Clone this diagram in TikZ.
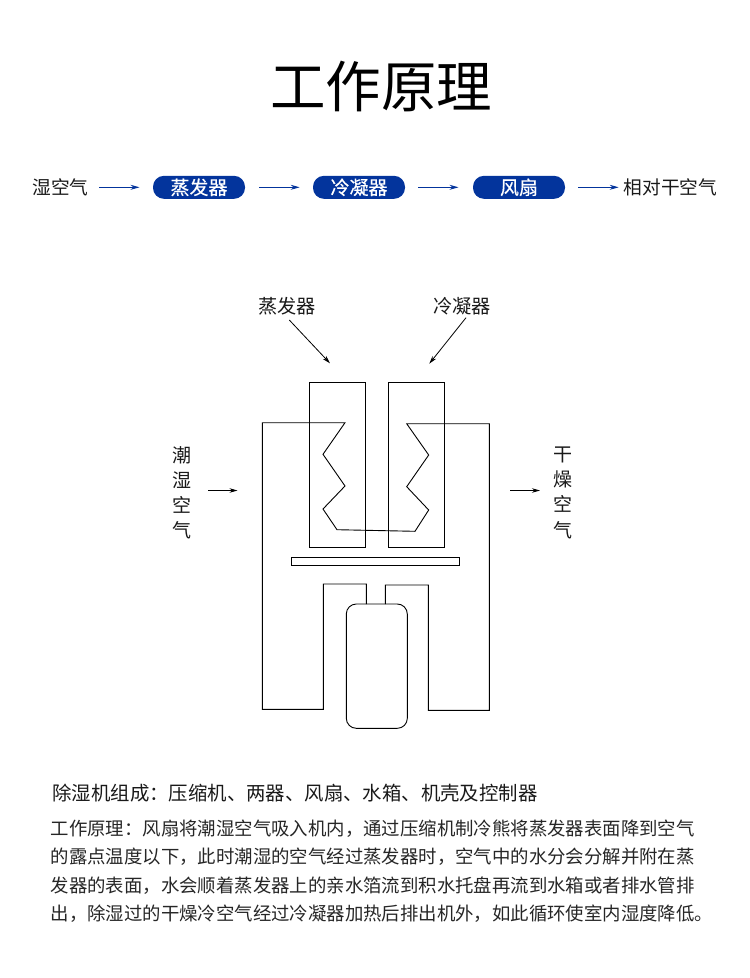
\documentclass[tikz,border=0pt]{standalone}
\usepackage{fontspec}
\setmainfont{Noto Sans CJK SC}
\usetikzlibrary{arrows.meta,positioning}
\definecolor{flowblue}{HTML}{03349C}
\tikzset{
  x=1pt,y=-1pt,
  lbl/.style={inner sep=0pt,font=\fontsize{18.7}{18.7}\selectfont,text=black!90},
  lblbig/.style={inner sep=0pt,font=\fontsize{19.2}{19.2}\selectfont,text=black!90},
  pill/.style={draw=none,fill=flowblue,rounded corners=11pt,minimum width=92pt,minimum height=23pt,inner sep=0pt,text=white,font=\fontsize{19}{19}\selectfont\addfontfeature{FakeBold=0.4}},
  flow/.style={draw=flowblue,line width=0.9pt,-{Stealth[length=9pt,width=5pt]}},
  pipe/.style={draw=black,line width=0.9pt,line join=miter},
  point/.style={draw=black,line width=0.8pt,-{Stealth[length=8pt,width=4.5pt]}},
  bodyline/.style={inner sep=0pt,anchor=west,font=\fontsize{18.4}{18.4}\selectfont,text=black!85},
  vlbl/.style={inner sep=0pt,align=center,font=\fontsize{19}{25.2}\selectfont,text=black!90}
}
\begin{document}
\begin{tikzpicture}
\useasboundingbox (0,0) rectangle (750,978);
\node[inner sep=0pt,font=\fontsize{55.5}{55.5}\selectfont] (title) at (381,86) {工作原理};
% flow row
\node[lbl] (f0) at (60.5,187.3) {湿空气};
\node[pill] (f1) at (199,187.3) {蒸发器};
\node[pill] (f2) at (359,187.3) {冷凝器};
\node[pill] (f3) at (519,187.3) {风扇};
\node[lbl] (f4) at (670.5,187.3) {相对干空气};
\coordinate (a0s) at (99,187.3); \coordinate (a0e) at (139.5,187.3);
\coordinate (a1s) at (259,187.3); \coordinate (a1e) at (299.7,187.3);
\coordinate (a2s) at (418,187.3); \coordinate (a2e) at (458.5,187.3);
\coordinate (a3s) at (578,187.3); \coordinate (a3e) at (618.7,187.3);
\draw[flow] (a0s) -- (a0e);
\draw[flow] (a1s) -- (a1e);
\draw[flow] (a2s) -- (a2e);
\draw[flow] (a3s) -- (a3e);
% labels
\node[lblbig] (evap) at (287,306) {蒸发器};
\node[lblbig] (cond) at (462,306) {冷凝器};
\coordinate (evapTip) at (330,363.3);
\coordinate (condTip) at (429.3,363.7);
\draw[point] (289.3,320) -- (evapTip);
\draw[point] (466,317.7) -- (condTip);
\node[vlbl] (wet) at (182,492.8) {潮\\湿\\空\\气};
\node[vlbl] (dry) at (563,492.8) {干\\燥\\空\\气};
\coordinate (wetTip) at (237.5,490.5);
\coordinate (dryTip) at (540,490.5);
\draw[point] (208.3,490.5) -- (wetTip);
\draw[point] (510,490.5) -- (dryTip);
% machine
\draw[pipe] (309.3,382.3) rectangle (365.7,547.3);
\draw[pipe] (388.3,382.3) rectangle (444.7,547.3);
\draw[pipe] (291.3,557) rectangle (459.3,565.3);
\draw[pipe,rounded corners=10pt] (346.3,604) rectangle (407.3,728.3);
\draw[pipe] (366.3,604) -- (366.3,584) -- (323.3,584) -- (323.3,709.3) -- (262.3,709.3) -- (262.3,422.7)
  -- (345,422.7) -- (323,454.3) -- (345,486) -- (323,509) -- (337,529.7) -- (415,531.3)
  -- (428.7,510) -- (406.7,486.7) -- (428.7,455) -- (406.7,423.7) -- (489.3,423.7)
  -- (489.3,710.3) -- (428.3,710.3) -- (428.3,585) -- (385.3,585) -- (385.3,604);
% text
\node[inner sep=0pt,anchor=west,font=\fontsize{19.4}{19.4}\selectfont,text=black!90] (head) at (52.3,793) {除湿机组成：压缩机、两器、风扇、水箱、机壳及控制器};
\node[bodyline] (b1) at (50.5,828.5) {工作原理：风扇将潮湿空气吸入机内，通过压缩机制冷熊将蒸发器表面降到空气};
\node[bodyline] (b2) at (50.5,857) {的露点温度以下，此时潮湿的空气经过蒸发器时，空气中的水分会分解并附在蒸};
\node[bodyline] (b3) at (50.5,885.5) {发器的表面，水会顺着蒸发器上的亲水箔流到积水托盘再流到水箱或者排水管排};
\node[bodyline] (b4) at (50.5,914) {出，除湿过的干燥冷空气经过冷凝器加热后排出机外，如此循环使室内湿度降低。};
\end{tikzpicture}
\end{document}
